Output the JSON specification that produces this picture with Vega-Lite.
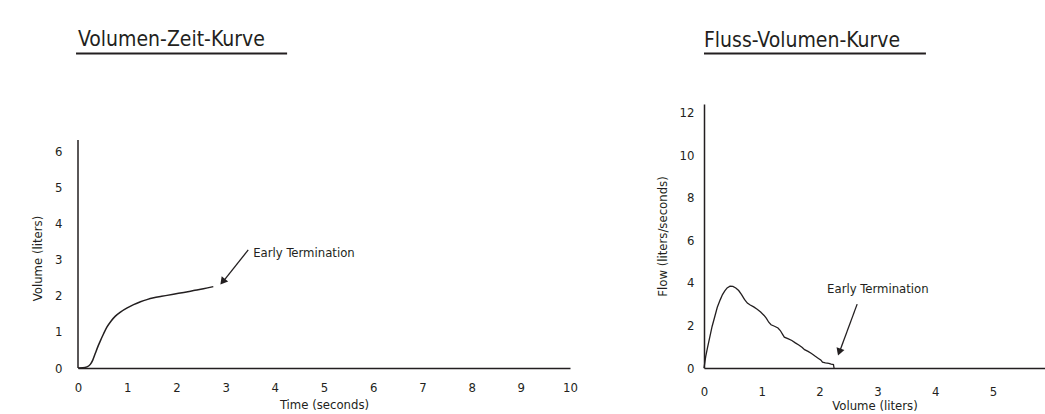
{
  "$schema": "https://vega.github.io/schema/vega-lite/v6.json",
  "background": "white",
  "padding": {"left": 31, "top": 29, "right": 0, "bottom": 0},
  "bounds": "flush",
  "spacing": 134,
  "config": {
    "font": "DejaVu Sans Condensed, Roboto, sans-serif",
    "view": {"stroke": null},
    "axis": {
      "grid": false,
      "ticks": false,
      "labelFont": "DejaVu Sans Condensed, Roboto, sans-serif",
      "labelFontSize": 13,
      "labelColor": "#231f20",
      "labelFlush": false,
      "titleFont": "DejaVu Sans Condensed, Roboto, sans-serif",
      "titleFontSize": 13,
      "titleFontWeight": "normal",
      "titleColor": "#231f20",
      "domainColor": "#231f20",
      "domainWidth": 1.5
    },
    "title": {
      "font": "DejaVu Sans Condensed, Roboto, sans-serif",
      "fontSize": 21,
      "fontWeight": "normal",
      "color": "#231f20",
      "anchor": "start",
      "frame": "group"
    },
    "text": {"font": "DejaVu Sans Condensed, Roboto, sans-serif", "fontSize": 13, "color": "#231f20"}
  },
  "datasets": {
    "vt": [
      {"t": 0, "v": 0}, {"t": 0.1, "v": 0.005}, {"t": 0.18, "v": 0.03}, {"t": 0.25, "v": 0.1},
      {"t": 0.3, "v": 0.22}, {"t": 0.35, "v": 0.4}, {"t": 0.4, "v": 0.58}, {"t": 0.45, "v": 0.74},
      {"t": 0.52, "v": 0.95}, {"t": 0.59, "v": 1.14}, {"t": 0.67, "v": 1.3}, {"t": 0.76, "v": 1.44},
      {"t": 0.87, "v": 1.56}, {"t": 1.0, "v": 1.67}, {"t": 1.13, "v": 1.76}, {"t": 1.27, "v": 1.84},
      {"t": 1.4, "v": 1.9}, {"t": 1.54, "v": 1.95}, {"t": 1.7, "v": 1.99}, {"t": 1.94, "v": 2.05},
      {"t": 2.15, "v": 2.1}, {"t": 2.35, "v": 2.15}, {"t": 2.55, "v": 2.2}, {"t": 2.75, "v": 2.26}
    ],
    "fv": [
      {"vol": 0, "flow": 0}, {"vol": 0.03, "flow": 0.55}, {"vol": 0.06, "flow": 0.95}, {"vol": 0.1, "flow": 1.45},
      {"vol": 0.14, "flow": 1.95}, {"vol": 0.18, "flow": 2.35}, {"vol": 0.23, "flow": 2.85}, {"vol": 0.28, "flow": 3.2},
      {"vol": 0.32, "flow": 3.45}, {"vol": 0.36, "flow": 3.62}, {"vol": 0.4, "flow": 3.76}, {"vol": 0.45, "flow": 3.84},
      {"vol": 0.5, "flow": 3.83}, {"vol": 0.55, "flow": 3.76}, {"vol": 0.6, "flow": 3.64}, {"vol": 0.65, "flow": 3.45},
      {"vol": 0.7, "flow": 3.22}, {"vol": 0.75, "flow": 3.05}, {"vol": 0.8, "flow": 2.96}, {"vol": 0.86, "flow": 2.87},
      {"vol": 0.92, "flow": 2.76}, {"vol": 0.98, "flow": 2.63}, {"vol": 1.04, "flow": 2.47}, {"vol": 1.08, "flow": 2.33},
      {"vol": 1.12, "flow": 2.15}, {"vol": 1.16, "flow": 2.03}, {"vol": 1.22, "flow": 1.96}, {"vol": 1.28, "flow": 1.88},
      {"vol": 1.32, "flow": 1.76}, {"vol": 1.36, "flow": 1.58}, {"vol": 1.39, "flow": 1.45}, {"vol": 1.45, "flow": 1.38},
      {"vol": 1.52, "flow": 1.29}, {"vol": 1.58, "flow": 1.18}, {"vol": 1.64, "flow": 1.08}, {"vol": 1.7, "flow": 0.96},
      {"vol": 1.74, "flow": 0.86}, {"vol": 1.8, "flow": 0.78}, {"vol": 1.86, "flow": 0.68}, {"vol": 1.92, "flow": 0.56},
      {"vol": 1.98, "flow": 0.45}, {"vol": 2.02, "flow": 0.38}, {"vol": 2.05, "flow": 0.27}, {"vol": 2.1, "flow": 0.24},
      {"vol": 2.16, "flow": 0.22}, {"vol": 2.2, "flow": 0.18}, {"vol": 2.24, "flow": 0.16}, {"vol": 2.25, "flow": 0.0}
    ],
    "one": [{}]
  },
  "hconcat": [
    {
      "width": 492,
      "height": 264,
      "title": {"text": "Volumen-Zeit-Kurve", "offset": 2},
      "layer": [
        {
          "data": {"name": "vt"},
          "mark": {"type": "line", "color": "#231f20", "strokeWidth": 1.5, "interpolate": "monotone"},
          "encoding": {
            "x": {
              "field": "t", "type": "quantitative",
              "scale": {"domain": [0, 10], "nice": false, "zero": false},
              "axis": {"values": [0,1,2,3,4,5,6,7,8,9,10], "title": "Time (seconds)", "labelPadding": 13, "titlePadding": 4, "format": "d"}
            },
            "y": {
              "field": "v", "type": "quantitative",
              "scale": {"domain": [0, 7.333], "nice": false},
              "axis": {"values": [0,1,2,3,4,5,6], "title": "Volume (liters)", "domain": false, "labelPadding": 16, "titlePadding": 10, "titleY": 154, "format": "d"}
            }
          }
        },
        {
          "data": {"name": "one"},
          "mark": {"type": "rule", "color": "#231f20", "strokeWidth": 1.5},
          "encoding": {
            "x": {"datum": 0, "type": "quantitative"},
            "y": {"datum": 0, "type": "quantitative"},
            "y2": {"datum": 6.33}
          }
        },
        {
          "data": {"name": "one"},
          "mark": {"type": "rule", "color": "#231f20", "strokeWidth": 1.3},
          "encoding": {
            "x": {"datum": 3.46, "type": "quantitative"},
            "y": {"datum": 3.28, "type": "quantitative"},
            "x2": {"datum": 2.96},
            "y2": {"datum": 2.42}
          }
        },
        {
          "data": {"name": "one"},
          "mark": {"type": "point", "shape": "triangle-up", "angle": 219, "filled": true, "size": 70, "color": "#231f20", "opacity": 1},
          "encoding": {
            "x": {"datum": 2.94, "type": "quantitative"},
            "y": {"datum": 2.4, "type": "quantitative"}
          }
        },
        {
          "data": {"name": "one"},
          "mark": {"type": "text", "text": "Early Termination", "align": "left", "baseline": "middle"},
          "encoding": {
            "x": {"datum": 3.56, "type": "quantitative"},
            "y": {"datum": 3.19, "type": "quantitative"}
          }
        },
        {
          "data": {"name": "one"},
          "mark": {"type": "rule", "color": "#231f20", "strokeWidth": 2, "clip": false},
          "encoding": {
            "x": {"datum": -0.04, "type": "quantitative"},
            "x2": {"datum": 4.25},
            "y": {"datum": 8.736, "type": "quantitative"}
          }
        }
      ]
    },
    {
      "width": 341,
      "height": 264,
      "title": {"text": "Fluss-Volumen-Kurve", "offset": 2},
      "layer": [
        {
          "data": {"name": "fv"},
          "mark": {"type": "line", "color": "#231f20", "strokeWidth": 1.3},
          "encoding": {
            "x": {
              "field": "vol", "type": "quantitative",
              "scale": {"domain": [0, 5.9], "nice": false, "zero": false},
              "axis": {"values": [0,1,2,3,4,5], "title": "Volume (liters)", "labelPadding": 17, "titlePadding": 1, "format": "d"}
            },
            "y": {
              "field": "flow", "type": "quantitative",
              "scale": {"domain": [0, 12.4], "nice": false},
              "axis": {"values": [0,2,4,6,8,10,12], "title": "Flow (liters/seconds)", "labelPadding": 10, "titlePadding": 10, "format": "d"}
            }
          }
        },
        {
          "data": {"name": "one"},
          "mark": {"type": "rule", "color": "#231f20", "strokeWidth": 1.3},
          "encoding": {
            "x": {"datum": 2.65, "type": "quantitative"},
            "y": {"datum": 3.0, "type": "quantitative"},
            "x2": {"datum": 2.35},
            "y2": {"datum": 0.8}
          }
        },
        {
          "data": {"name": "one"},
          "mark": {"type": "point", "shape": "triangle-up", "angle": 200, "filled": true, "size": 70, "color": "#231f20", "opacity": 1},
          "encoding": {
            "x": {"datum": 2.34, "type": "quantitative"},
            "y": {"datum": 0.75, "type": "quantitative"}
          }
        },
        {
          "data": {"name": "one"},
          "mark": {"type": "text", "text": "Early Termination", "align": "left", "baseline": "middle"},
          "encoding": {
            "x": {"datum": 2.13, "type": "quantitative"},
            "y": {"datum": 3.71, "type": "quantitative"}
          }
        },
        {
          "data": {"name": "one"},
          "mark": {"type": "rule", "color": "#231f20", "strokeWidth": 2, "clip": false},
          "encoding": {
            "x": {"datum": 0, "type": "quantitative"},
            "x2": {"datum": 3.84},
            "y": {"datum": 14.77, "type": "quantitative"}
          }
        }
      ]
    }
  ]
}
